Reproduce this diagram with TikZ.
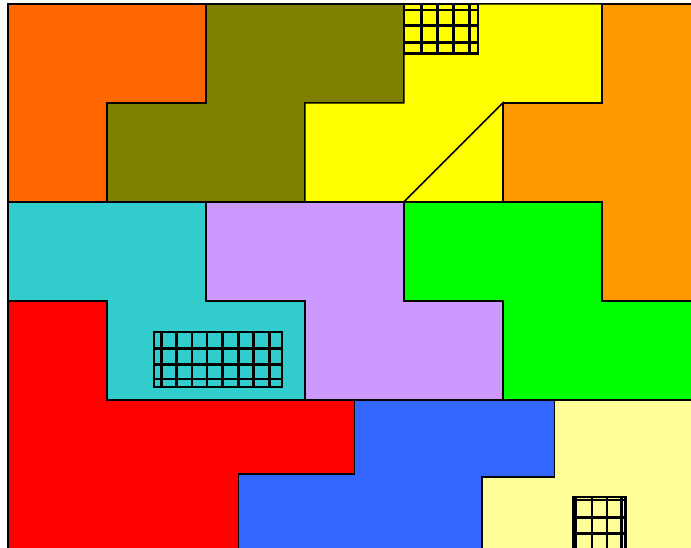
\documentclass[tikz,border=0pt]{standalone}
\usepackage{tikz}
\definecolor{tangerine}{HTML}{FF6600}
\definecolor{olivepiece}{HTML}{808000}
\definecolor{lemon}{HTML}{FFFF00}
\definecolor{amber}{HTML}{FF9900}
\definecolor{teal}{HTML}{33CCCC}
\definecolor{lavender}{HTML}{CC99FF}
\definecolor{lime}{HTML}{00FF00}
\definecolor{scarlet}{HTML}{FF0000}
\definecolor{azure}{HTML}{3366FF}
\definecolor{cream}{HTML}{FFFF99}

\begin{document}
\begin{tikzpicture}[
    piece/.style={draw=black, line width=0.45pt, line join=miter},
    gridline/.style={black, line width=0.75pt}
]
    \useasboundingbox (-0.08,0.505) rectangle (6.9,6.04);
    \clip (-0.08,0.505) rectangle (6.9,6.04);

    % Top row
    \draw[piece, fill=tangerine] (0,6) -- (2,6) -- (2,5) -- (1,5) -- (1,4) -- (0,4) -- cycle;
    \draw[piece, fill=olivepiece] (2,6) -- (4,6) -- (4,5) -- (3,5) -- (3,4) -- (1,4) -- (1,5) -- (2,5) -- cycle;
    \draw[piece, fill=lemon] (4,6) -- (6,6) -- (6,5) -- (5,5) -- (4,4) -- (3,4) -- (3,5) -- (4,5) -- cycle;
    \draw[piece, fill=lemon] (4,4) -- (5,5) -- (5,4) -- cycle;
    \draw[piece, fill=amber] (6,6) -- (7,6) -- (7,3) -- (6,3) -- (6,4) -- (5,4) -- (5,5) -- (6,5) -- cycle;

    % Middle row
    \draw[piece, fill=teal] (0,4) -- (2,4) -- (2,3) -- (3,3) -- (3,2) -- (1,2) -- (1,3) -- (0,3) -- cycle;
    \draw[piece, fill=lavender] (2,4) -- (4,4) -- (4,3) -- (5,3) -- (5,2) -- (3,2) -- (3,3) -- (2,3) -- cycle;
    \draw[piece, fill=lime] (4,4) -- (6,4) -- (6,3) -- (7,3) -- (7,2) -- (5,2) -- (5,3) -- (4,3) -- cycle;

    % Bottom row
    \draw[piece, fill=scarlet] (0,3) -- (1,3) -- (1,2) -- (3.5,2) -- (3.5,1.25) -- (2.33,1.25) -- (2.33,0.4) -- (0,0.4) -- cycle;
    \draw[piece, fill=azure] (3.5,2) -- (5.52,2) -- (5.52,1.22) -- (4.79,1.22) -- (4.79,0.4) -- (2.33,0.4) -- (2.33,1.25) -- (3.5,1.25) -- cycle;
    \draw[piece, fill=cream] (5.52,2) -- (7,2) -- (7,0.4) -- (4.79,0.4) -- (4.79,1.22) -- (5.52,1.22) -- cycle;

    % Grid patches
    \draw[gridline] (4,5.5) rectangle (4.75,6);
    \foreach \x in {4.18,4.34,4.50,4.66} \draw[gridline] (\x,5.5) -- (\x,6);
    \foreach \y in {5.61,5.78,5.94} \draw[gridline] (4,\y) -- (4.75,\y);

    \draw[gridline] (1.475,2.13) rectangle (2.77,2.685);
    \foreach \x in {1.55,1.70,1.86,2.01,2.17,2.33,2.48,2.64} \draw[gridline] (\x,2.13) -- (\x,2.685);
    \foreach \y in {2.21,2.36,2.52} \draw[gridline] (1.475,\y) -- (2.77,\y);

    \draw[gridline] (5.71,0.4) rectangle (6.24,1.02);
    \foreach \x in {5.74,5.90,6.05,6.20} \draw[gridline] (\x,0.4) -- (\x,1.02);
    \foreach \y in {0.65,0.81,0.99} \draw[gridline] (5.71,\y) -- (6.24,\y);

\end{tikzpicture}
\end{document}
